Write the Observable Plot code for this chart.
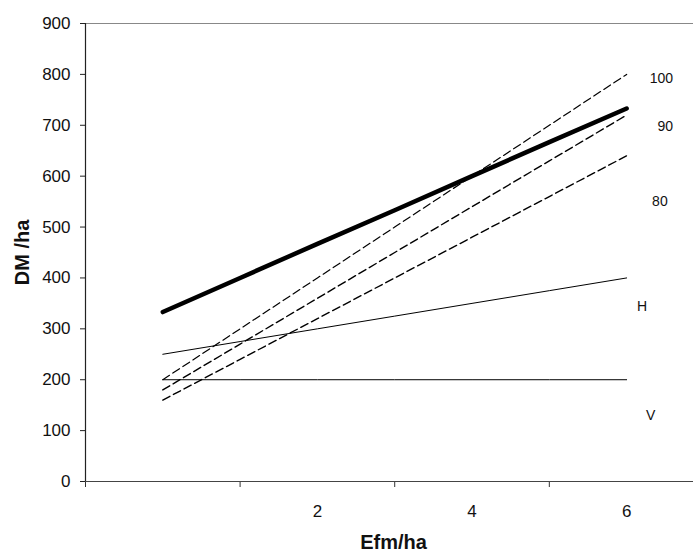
<!DOCTYPE html>
<html>
<head>
<meta charset="utf-8">
<script src="https://cdn.jsdelivr.net/npm/d3@7"></script>
<script src="https://cdn.jsdelivr.net/npm/@observablehq/plot@0.6"></script>
<style>
  html, body { margin: 0; padding: 0; background: #fff; }
  #chart svg { font-family: "Liberation Sans", Arial, sans-serif; }
</style>
</head>
<body>
<div id="chart"></div>
<script>
// Data
const xValues = [0, 1, 2, 3, 4, 5, 6];
const seriesBold = [333, 400, 467, 533, 600, 667, 733];
const series100 = [200, 300, 400, 500, 600, 700, 800];
const series90  = [180, 270, 360, 450, 540, 630, 720];
const series80  = [160, 240, 320, 400, 480, 560, 640];
const seriesH   = [250, 275, 300, 325, 350, 375, 400];
const seriesV   = [200, 200, 200, 200, 200, 200, 200];

const yTicks = [0, 100, 200, 300, 400, 500, 600, 700, 800, 900];
const xTickMarks = [-1, 1, 3, 5];
const xTickLabels = [2, 4, 6];

const seriesLabels = ["100", "90", "80", "H", "V"];
const seriesLabelX = [6.45, 6.50, 6.43, 6.20, 6.31];
const seriesLabelY = [792, 697, 550, 344, 130];

const toPts = (ys) => xValues.map((x, i) => ({x, y: ys[i]}));
const labelRows = seriesLabels.map((t, i) => ({t, x: seriesLabelX[i], y: seriesLabelY[i]}));

const chart = Plot.plot({
  width: 693,
  height: 553,
  marginLeft: 85,
  marginRight: 0,
  marginTop: 23,
  marginBottom: 72,
  x: {domain: [-1, 6.865], axis: null},
  y: {domain: [0, 900], axis: null},
  marks: [
    // plot area top border
    Plot.ruleY([900], {stroke: "#888", strokeWidth: 1}),
    // series
    Plot.line(toPts(seriesV), {x: "x", y: "y", stroke: "#000", strokeWidth: 1}),
    Plot.line(toPts(seriesH), {x: "x", y: "y", stroke: "#000", strokeWidth: 1}),
    Plot.line(toPts(series80), {x: "x", y: "y", stroke: "#000", strokeWidth: 1.4, strokeDasharray: "8,4"}),
    Plot.line(toPts(series90), {x: "x", y: "y", stroke: "#000", strokeWidth: 1.4, strokeDasharray: "8,4"}),
    Plot.line(toPts(series100), {x: "x", y: "y", stroke: "#000", strokeWidth: 1.2, strokeDasharray: "8,4"}),
    Plot.line(toPts(seriesBold), {x: "x", y: "y", stroke: "#000", strokeWidth: 4.5, strokeLinecap: "round"}),
    // axes
    Plot.axisY({ticks: yTicks, tickSize: 5, tickPadding: 10, fontSize: 17, label: null, stroke: "#222", color: "#111", style: {letterSpacing: "0.5px"}}),
    Plot.axisX({ticks: xTickMarks, tickSize: 6, tickFormat: () => "", label: null, stroke: "#333"}),
    Plot.ruleX([-1], {stroke: "#222", strokeWidth: 1.2}),
    Plot.ruleY([0], {stroke: "#444", strokeWidth: 1.2}),
    Plot.text(xTickLabels, {x: d => d, frameAnchor: "bottom", dy: 30, fontSize: 17, lineAnchor: "middle", fill: "#111"}),
    // axis titles
    Plot.text(["DM /ha"], {frameAnchor: "left", textAnchor: "middle", dx: -63, rotate: -90, fontWeight: "bold", fontSize: 20, fill: "#111"}),
    Plot.text(["Efm/ha"], {frameAnchor: "bottom", textAnchor: "middle", dx: 4, dy: 61, fontWeight: "bold", fontSize: 20, lineAnchor: "middle", fill: "#111"}),
    // series labels
    Plot.text(labelRows, {x: "x", y: "y", text: "t", fontSize: 14, fill: "#111"})
  ]
});
document.getElementById("chart").appendChild(chart);
</script>
</body>
</html>
